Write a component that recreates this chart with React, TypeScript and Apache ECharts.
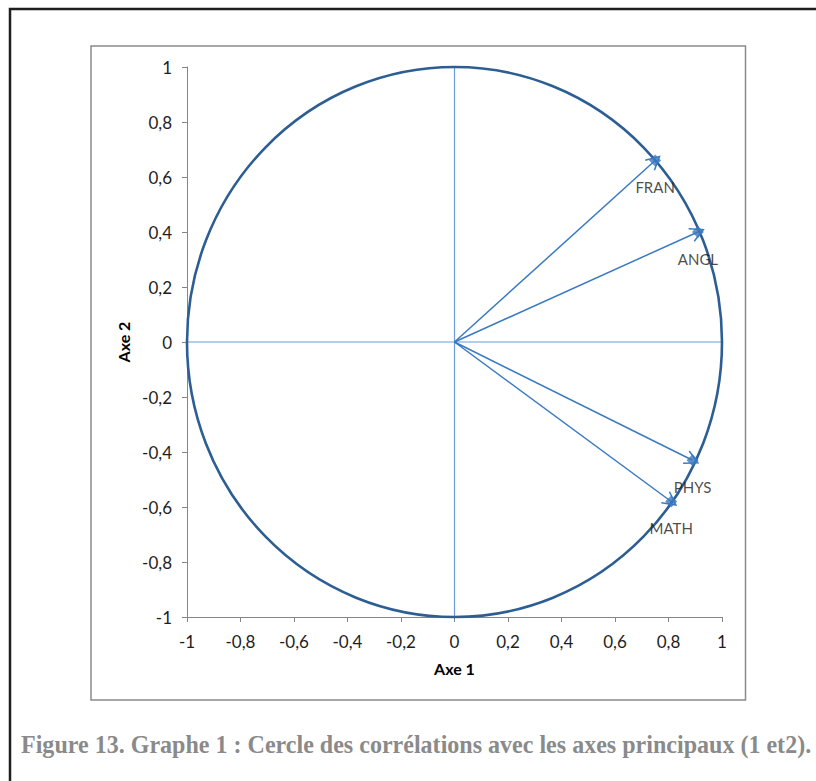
import React, { useEffect, useRef } from "react";
import * as echarts from "echarts";

const varNames = ["FRAN", "ANGL", "PHYS", "MATH"];
const axis1 = [0.75, 0.91, 0.89, 0.81];
const axis2 = [0.66, 0.4, -0.43, -0.58];
const horizontalAxisLine = [[-1, 0], [1, 0]];
const verticalAxisLine = [[0, -1], [0, 1]];
const unitCircle = [[0, 0, 1]];
const caption = "Figure 13. Graphe 1 : Cercle des corrélations avec les axes principaux (1 et2).";
const axisNames = ["Axe 1", "Axe 2"];

const fmt = (v: number) => String(Math.round(v * 10) / 10).replace(".", ",");

function measure(text: string, font: string): number {
  const c = document.createElement("canvas");
  const ctx = c.getContext("2d");
  if (!ctx) return text.length * 12;
  ctx.font = font;
  return ctx.measureText(text).width;
}

const chevron = "path://M10,0 L20,20 L18.2,21 L10,4.5 L1.8,21 L0,20 Z";

export default function App() {
  const ref = useRef<HTMLDivElement>(null);
  useEffect(() => {
    if (!ref.current) return;
    const chart = echarts.init(ref.current, undefined, { renderer: "svg" });
    const capFont = 'bold 25px "Liberation Serif"';
    const capW = measure(caption, capFont);
    const capScale = 791 / capW;

    const axisCommon = {
      type: "value" as const,
      min: -1,
      max: 1,
      interval: 0.2,
      splitLine: { show: false },
      axisLine: { show: true, onZero: false, lineStyle: { color: "#868686", width: 1 } },
      axisTick: { show: true, length: 5, lineStyle: { color: "#868686" } },
      nameLocation: "middle" as const,
      nameTextStyle: { fontFamily: "Lato", fontWeight: "bold", fontSize: 16, color: "#000" },
    };

    chart.setOption({
      animation: false,
      backgroundColor: "#fff",
      grid: { left: 187, top: 67, width: 535, height: 550, containLabel: false },
      xAxis: {
        ...axisCommon,
        name: axisNames[0],
        nameGap: 43,
        axisLabel: { fontFamily: "Lato", fontSize: 17, color: "#1e1e1e", margin: 16, formatter: fmt },
      },
      yAxis: {
        ...axisCommon,
        name: axisNames[1],
        nameGap: 52,
        axisLabel: { fontFamily: "Lato", fontSize: 17, color: "#1e1e1e", margin: 15, formatter: fmt },
      },
      graphic: [
        {
          type: "rect",
          shape: { x: 10, y: 9, width: 900, height: 900 },
          style: { fill: "none", stroke: "#1f1f1f", lineWidth: 2.5 },
          silent: true,
        },
        {
          type: "rect",
          shape: { x: 91, y: 46, width: 654.5, height: 654 },
          style: { fill: "none", stroke: "#8a8a8a", lineWidth: 1.5 },
          silent: true,
        },
        {
          type: "text",
          x: 21,
          y: 744,
          scaleX: capScale,
          style: {
            text: caption,
            font: capFont,
            fill: "#8a8a8a",
            align: "left",
            verticalAlign: "middle",
          },
          silent: true,
        },
      ],
      series: [
        {
          type: "line",
          data: horizontalAxisLine,
          symbol: "none",
          lineStyle: { color: "#6A9BD6", width: 1.2 },
          z: 1,
        },
        {
          type: "line",
          data: verticalAxisLine,
          symbol: "none",
          lineStyle: { color: "#6A9BD6", width: 1.2 },
          z: 1,
        },
        {
          type: "custom",
          coordinateSystem: "cartesian2d",
          data: unitCircle,
          encode: { x: 0, y: 1 },
          clip: false,
          z: 2,
          renderItem: (params: any, api: any) => {
            const cx = api.value(0);
            const cy = api.value(1);
            const r = api.value(2);
            const c = api.coord([cx, cy]);
            const rx = api.coord([cx + r, cy])[0] - c[0];
            const ry = c[1] - api.coord([cx, cy + r])[1];
            const d = `M ${c[0] - rx} ${c[1]} A ${rx} ${ry} 0 1 1 ${c[0] + rx} ${c[1]} A ${rx} ${ry} 0 1 1 ${c[0] - rx} ${c[1]} Z`;
            return {
              type: "path",
              shape: { pathData: d, x: c[0] - rx, y: c[1] - ry, width: 2 * rx, height: 2 * ry },
              style: { fill: "none", stroke: "#2C5E93", lineWidth: 2.6 },
            };
          },
        },
        {
          type: "lines",
          coordinateSystem: "cartesian2d",
          data: varNames.map((n, i) => ({ coords: [[0, 0], [axis1[i], axis2[i]]] })),
          lineStyle: { color: "#3A7AC2", width: 1.5, opacity: 1 },
          symbol: ["none", chevron],
          symbolSize: 15,
          z: 3,
        },
        {
          type: "scatter",
          data: varNames.map((n, i) => ({ name: n, value: [axis1[i], axis2[i]] })),
          symbol: "diamond",
          symbolSize: 12,
          itemStyle: { color: "#3A78C0" },
          label: {
            show: true,
            position: "bottom",
            distance: 13,
            formatter: (p: any) => p.name,
            fontFamily: "Lato",
            fontSize: 15,
            color: "#1a1a1a",
          },
          z: 4,
        },
      ],
    });
    return () => chart.dispose();
  }, []);
  return (
    <div
      ref={ref}
      style={{ position: "fixed", left: 0, top: 0, width: 816, height: 781 }}
    />
  );
}
